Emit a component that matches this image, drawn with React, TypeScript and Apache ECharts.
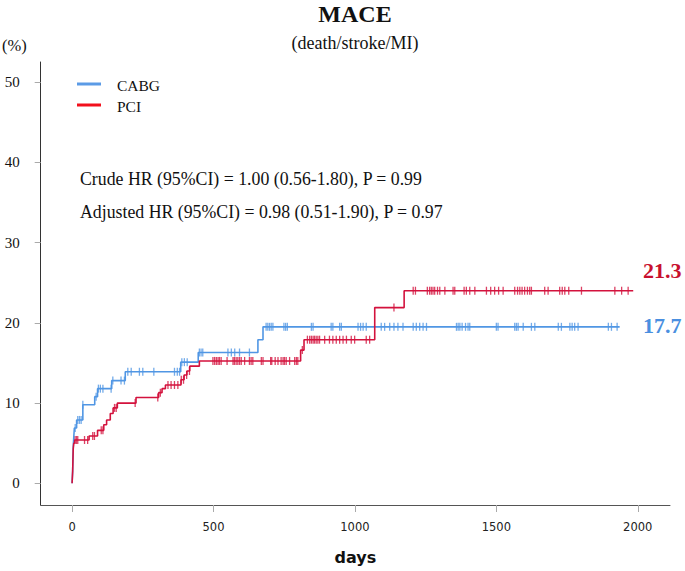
import React, { useEffect, useRef } from 'react';
import * as echarts from 'echarts';

// ---- data ----
const xTicks = [0, 500, 1000, 1500, 2000];
const yTicks = [0, 10, 20, 30, 40, 50];

// Kaplan-Meier steps: [day, cumulative incidence %]
const cabgSteps: [number, number][] = [
  [0, 0], [2, 1.5], [3, 3.0], [4, 4.5], [6, 5.8], [8, 6.9], [16, 7.9], [38, 9.8],
  [80, 10.8], [90, 11.8], [140, 12.8], [188, 13.9], [384, 15.1], [446, 16.3],
  [657, 17.9], [675, 19.5],
];
const cabgEnd = 1936;
const cabgCensor = [
  11, 20, 26, 32, 38, 85, 93, 100, 109, 138, 144, 173, 185, 197, 209, 238, 250, 289,
  362, 372, 380, 388, 397, 407, 450, 456, 462, 551, 563, 575, 592, 627, 686, 692, 698,
  704, 710, 749, 755, 761, 846, 852, 916, 922, 946, 952, 1011, 1020, 1029, 1040, 1093,
  1105, 1123, 1138, 1152, 1170, 1206, 1217, 1229, 1241, 1253, 1359, 1365, 1371, 1379,
  1391, 1400, 1406, 1500, 1506, 1565, 1571, 1577, 1595, 1624, 1636, 1719, 1730, 1760,
  1768, 1777, 1789, 1896, 1907, 1927,
];

const pciSteps: [number, number][] = [
  [0, 0], [2, 1.5], [3, 3.0], [4, 4.3], [6, 5.0], [9, 5.4], [60, 5.9], [90, 6.6],
  [112, 7.3], [122, 7.9], [135, 8.7], [145, 9.4], [160, 10.0], [226, 10.7],
  [306, 11.3], [318, 11.8], [330, 12.25], [385, 12.9], [396, 13.5], [406, 14.0],
  [416, 14.6], [450, 15.25], [808, 16.6], [820, 17.9], [1070, 21.9], [1174, 24.0],
];
const pciEnd = 1984;
const pciCensor = [
  10, 15, 20, 44, 55, 73, 79, 103, 109, 150, 156, 223, 303, 312, 339, 350, 362, 374,
  386, 394, 405, 415, 498, 504, 510, 516, 521, 527, 548, 569, 574, 580, 586, 592, 598,
  610, 627, 633, 639, 669, 675, 702, 706, 718, 728, 739, 746, 751, 757, 769, 787, 793,
  798, 814, 832, 840, 846, 852, 857, 863, 869, 875, 893, 910, 922, 934, 946, 958, 970,
  987, 999, 1040, 1052, 1138, 1206, 1214, 1256, 1264, 1270, 1276, 1282, 1292, 1300,
  1318, 1347, 1353, 1386, 1394, 1406, 1424, 1465, 1480, 1494, 1508, 1524, 1565, 1575,
  1583, 1591, 1600, 1610, 1618, 1624, 1671, 1683, 1724, 1733, 1742, 1756, 1801, 1919,
  1943, 1966,
];

const seriesNames = ['CABG', 'PCI'];
const endLabels = ['17.7', '21.3'];
const annotations = [
  'Crude HR (95%CI) = 1.00 (0.56-1.80), P = 0.99',
  'Adjusted HR (95%CI) = 0.98 (0.51-1.90), P = 0.97',
];

// ---- helpers ----
const lineData = (steps: [number, number][], end: number) => [
  ...steps,
  [end, steps[steps.length - 1][1]],
];
const valueAt = (steps: [number, number][], t: number) => {
  let v = 0;
  for (const [d, y] of steps) if (d <= t) v = y;
  return v;
};
const censorData = (steps: [number, number][], days: number[]) =>
  days.map((d) => [d, valueAt(steps, d)]);

const BLUE = '#5096e4';
const RED = '#d3123d';
const SERIF = 'Liberation Serif';
const SANS = 'DejaVu Sans';

const txt = (
  text: string, x: number, y: number, size: number, fill = '#111',
  weight: string = 'normal', align = 'left', family = SERIF,
) => ({
  type: 'text', x, y,
  style: {
    text, fill, fontSize: size, fontFamily: family, fontWeight: weight,
    align, verticalAlign: 'middle', textAlign: align, textVerticalAlign: 'middle',
  },
});

export default function App() {
  const ref = useRef<HTMLDivElement>(null);
  useEffect(() => {
    if (!ref.current) return;
    const chart = echarts.init(ref.current, undefined, { renderer: 'svg' });
    chart.setOption({
      animation: false,
      grid: { left: 40.7, right: 15, top: 62, bottom: 66 },
      xAxis: {
        type: 'value',
        min: -111,
        max: 2114,
        name: 'days',
        nameLocation: 'middle',
        nameGap: 44,
        nameTextStyle: { fontFamily: SANS, fontWeight: 'bold', fontSize: 16, color: '#111' },
        axisLine: { show: true, onZero: false, lineStyle: { color: '#555', width: 1 } },
        axisTick: { show: true, length: 7, customValues: xTicks, lineStyle: { color: '#aaa' } },
        axisLabel: {
          customValues: xTicks, margin: 16, fontFamily: SANS, fontSize: 11.5, color: '#222',
          formatter: (v: number) => String(v),
        },
        splitLine: { show: false },
      },
      yAxis: {
        type: 'value',
        min: -2.7,
        max: 52.5,
        axisLine: { show: true, onZero: false, lineStyle: { color: '#333', width: 1 } },
        axisTick: { show: true, length: 6, customValues: yTicks, lineStyle: { color: '#aaa' } },
        axisLabel: {
          customValues: yTicks, margin: 21, fontFamily: SERIF, fontSize: 15, color: '#111',
          formatter: (v: number) => String(v),
        },
        splitLine: { show: false },
      },
      series: [
        {
          name: seriesNames[0],
          type: 'line',
          step: 'end',
          showSymbol: false,
          data: lineData(cabgSteps, cabgEnd),
          lineStyle: { color: BLUE, width: 1.6 },
          itemStyle: { color: BLUE },
        },
        {
          name: seriesNames[0] + ' censored',
          type: 'scatter',
          symbol: 'rect',
          symbolSize: [1.3, 8],
          data: censorData(cabgSteps, cabgCensor),
          itemStyle: { color: BLUE },
        },
        {
          name: seriesNames[1],
          type: 'line',
          step: 'end',
          showSymbol: false,
          data: lineData(pciSteps, pciEnd),
          lineStyle: { color: RED, width: 1.6 },
          itemStyle: { color: RED },
        },
        {
          name: seriesNames[1] + ' censored',
          type: 'scatter',
          symbol: 'rect',
          symbolSize: [1.3, 8],
          data: censorData(pciSteps, pciCensor),
          itemStyle: { color: RED },
        },
      ],
      graphic: [
        txt('MACE', 355, 14, 24, '#111', 'bold', 'center'),
        txt('(death/stroke/MI)', 355, 43, 18, '#111', 'normal', 'center'),
        txt('(%)', 2, 45, 16.5),
        { type: 'line', shape: { x1: 77, y1: 84, x2: 101, y2: 84 }, style: { stroke: '#5b9be6', lineWidth: 3 } },
        txt(seriesNames[0], 117, 85, 15.5),
        { type: 'line', shape: { x1: 77, y1: 105, x2: 101, y2: 105 }, style: { stroke: '#f2101c', lineWidth: 3 } },
        txt(seriesNames[1], 117, 106, 15.5),
        txt(annotations[0], 80, 179, 17.8),
        txt(annotations[1], 80, 212, 17.8),
        txt(endLabels[1], 643, 270, 22, '#c8102e', 'bold'),
        txt(endLabels[0], 643, 325, 22, '#4a8fe0', 'bold'),
      ],
    });
    return () => chart.dispose();
  }, []);
  return (
    <div
      ref={ref}
      style={{ position: 'absolute', left: 0, top: 0, width: 685, height: 571 }}
    />
  );
}
